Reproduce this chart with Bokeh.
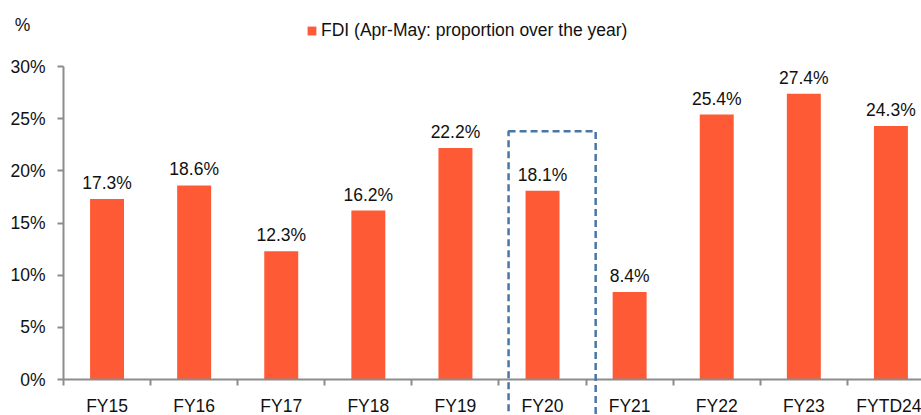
from bokeh.plotting import figure
from bokeh.models import (Range1d, FixedTicker, PrintfTickFormatter, BoxAnnotation,
                          Label, Legend, LegendItem, ColumnDataSource)
from bokeh.core.properties import value as V
from bokeh.embed import file_html
from bokeh.resources import INLINE

categories = ["FY15", "FY16", "FY17", "FY18", "FY19", "FY20", "FY21", "FY22", "FY23", "FYTD24"]
values = [17.3, 18.6, 12.3, 16.2, 22.2, 18.1, 8.4, 25.4, 27.4, 24.3]
y_ticks = [0, 5, 10, 15, 20, 25, 30]
series_name = "FDI (Apr-May: proportion over the year)"
highlight = "FY20"

FONT = "Liberation Sans"
FS = "17.5px"
BAR = "#FF5A36"
AXIS = "#8C8C8C"
TXT = "#111111"

xs = list(range(len(categories)))
src = ColumnDataSource(dict(x=xs, top=values, lab=[f"{v:.1f}%" for v in values]))

p = figure(width=921, height=415, output_backend="svg", toolbar_location=None,
           x_range=Range1d(-1.2233, 9.351), y_range=Range1d(-3.45, 36.33),
           min_border=0)
p.outline_line_color = None
p.xgrid.visible = False
p.ygrid.visible = False
p.background_fill_color = "white"
p.border_fill_color = "white"

bars = p.vbar(x="x", top="top", width=0.39, bottom=0, source=src, fill_color=BAR, line_color=None)
p.text(x="x", y="top", text="lab", source=src, text_align="center", text_baseline="alphabetic",
       y_offset=-16, text_font=V(FONT), text_font_size=FS, text_color=TXT)

# x axis
xa = p.xaxis[0]
xa.fixed_location = 0
xa.bounds = (-0.5, 10)
xa.ticker = FixedTicker(ticks=xs, minor_ticks=[i - 0.5 for i in range(len(categories) + 1)])
xa.major_label_overrides = {i: c for i, c in enumerate(categories)}
xa.major_tick_line_color = None
xa.major_tick_out = 6
xa.major_tick_in = 0
xa.minor_tick_line_color = AXIS
xa.minor_tick_line_width = 2
xa.minor_tick_out = 6
xa.minor_tick_in = 0
xa.axis_line_color = AXIS
xa.axis_line_width = 2
xa.major_label_standoff = 10
xa.major_label_text_font = FONT
xa.major_label_text_font_size = FS
xa.major_label_text_color = TXT

# y axis
ya = p.yaxis[0]
ya.fixed_location = -0.5
ya.bounds = (0, 30)
ya.ticker = FixedTicker(ticks=y_ticks)
ya.formatter = PrintfTickFormatter(format="%d%%")
ya.axis_line_color = AXIS
ya.axis_line_width = 2
ya.major_tick_line_color = AXIS
ya.major_tick_line_width = 2
ya.major_tick_out = 6
ya.major_tick_in = 0
ya.minor_tick_line_color = None
ya.major_label_standoff = 12
ya.major_label_text_font = FONT
ya.major_label_text_font_size = FS
ya.major_label_text_color = TXT

# highlight box around FY20
hi = categories.index(highlight)
box = BoxAnnotation(left=hi - 0.39, right=hi + 0.61, top=23.8, bottom=-5,
                    fill_alpha=0, line_color="#4A76A5", line_alpha=1.0,
                    line_width=2.5, line_dash="7 4")
p.add_layout(box)

# "%" unit label
p.add_layout(Label(x=-0.971, y=34.0, text="%", text_align="center", text_baseline="middle",
                   text_font=FONT, text_font_size=FS, text_color=TXT))

legend = Legend(items=[LegendItem(label=series_name, renderers=[bars])],
                location=(306, 374), orientation="horizontal", margin=0, padding=5,
                glyph_width=11, glyph_height=11, label_standoff=4,
                label_text_font=FONT, label_text_font_size=FS, label_text_color=TXT,
                border_line_color=None, background_fill_alpha=0)
p.add_layout(legend)

open("out.html", "w").write(file_html(p, INLINE))
